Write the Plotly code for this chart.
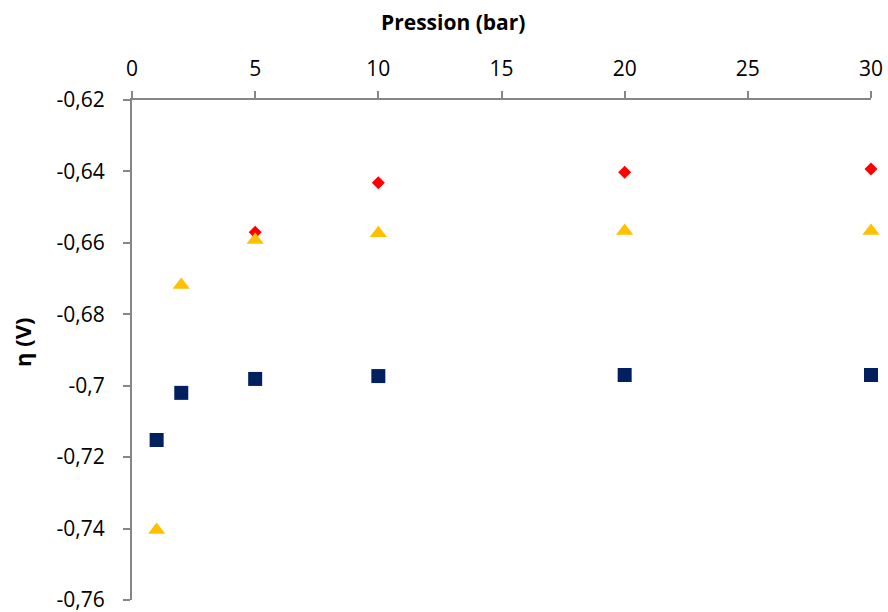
import plotly.graph_objects as go

# Data
pressure_red = [5, 10, 20, 30]
eta_red = [-0.657, -0.6432, -0.6402, -0.6393]

pressure_yellow = [1, 2, 5, 10, 20, 30]
eta_yellow = [-0.7404, -0.6718, -0.6592, -0.6573, -0.6567, -0.6567]

pressure_navy = [1, 2, 5, 10, 20, 30]
eta_navy = [-0.7152, -0.7020, -0.6981, -0.6973, -0.6970, -0.6970]

x_ticks = [0, 5, 10, 15, 20, 25, 30]
x_ticklabels = ["0", "5", "10", "15", "20", "25", "30"]
y_ticks = [-0.62, -0.64, -0.66, -0.68, -0.70, -0.72, -0.74, -0.76]
y_ticklabels = ["-0,62", "-0,64", "-0,66", "-0,68", "-0,7", "-0,72", "-0,74", "-0,76"]

FONT = "Open Sans"
AXIS_COLOR = "#868686"

fig = go.Figure()
fig.add_trace(go.Scatter(x=pressure_red, y=eta_red, mode="markers",
                         marker=dict(symbol="diamond", size=10, color="#FF0000", line=dict(width=0)),
                         showlegend=False, cliponaxis=False))
fig.add_trace(go.Scatter(x=pressure_yellow, y=eta_yellow, mode="markers",
                         marker=dict(symbol="triangle-up", size=15, color="#FFC000", line=dict(width=0)),
                         showlegend=False, cliponaxis=False))
fig.add_trace(go.Scatter(x=pressure_navy, y=eta_navy, mode="markers",
                         marker=dict(symbol="square", size=14, color="#002060", line=dict(width=0)),
                         showlegend=False, cliponaxis=False))

fig.update_layout(
    width=888, height=612, autosize=False,
    margin=dict(l=132, r=17, t=100, b=12, autoexpand=False),
    paper_bgcolor="white", plot_bgcolor="white",
    font=dict(family=FONT, size=21, color="black"),
    xaxis=dict(side="top", range=[0, 30], tickvals=x_ticks, ticktext=x_ticklabels,
               showline=True, linecolor=AXIS_COLOR, linewidth=2,
               ticks="outside", ticklen=7, tickwidth=2, tickcolor=AXIS_COLOR,
               showgrid=False, zeroline=False, ticklabelstandoff=7,
               automargin=False, ticklabeloverflow="allow"),
    yaxis=dict(range=[-0.76, -0.62], tickvals=y_ticks, ticktext=y_ticklabels,
               showline=True, linecolor=AXIS_COLOR, linewidth=2,
               ticks="outside", ticklen=7, tickwidth=2, tickcolor=AXIS_COLOR,
               showgrid=False, zeroline=False, ticklabelstandoff=14,
               automargin=False, ticklabeloverflow="allow"),
    annotations=[
        dict(text="<b>Pression (bar)</b>", xref="paper", yref="paper",
             x=(453 - 132) / 739, y=(600 - 22) / 500, xanchor="center", yanchor="middle",
             showarrow=False, font=dict(family=FONT, size=21)),
        dict(text="<b>η (V)</b>", xref="paper", yref="paper",
             x=(22 - 132) / 739, y=(600 - 343) / 500, xanchor="center", yanchor="middle",
             textangle=-90, showarrow=False, font=dict(family=FONT, size=22)),
    ],
)

fig.write_html("out.html", config={"displayModeBar": False, "responsive": False},
               post_script="document.body.style.margin='0';")
